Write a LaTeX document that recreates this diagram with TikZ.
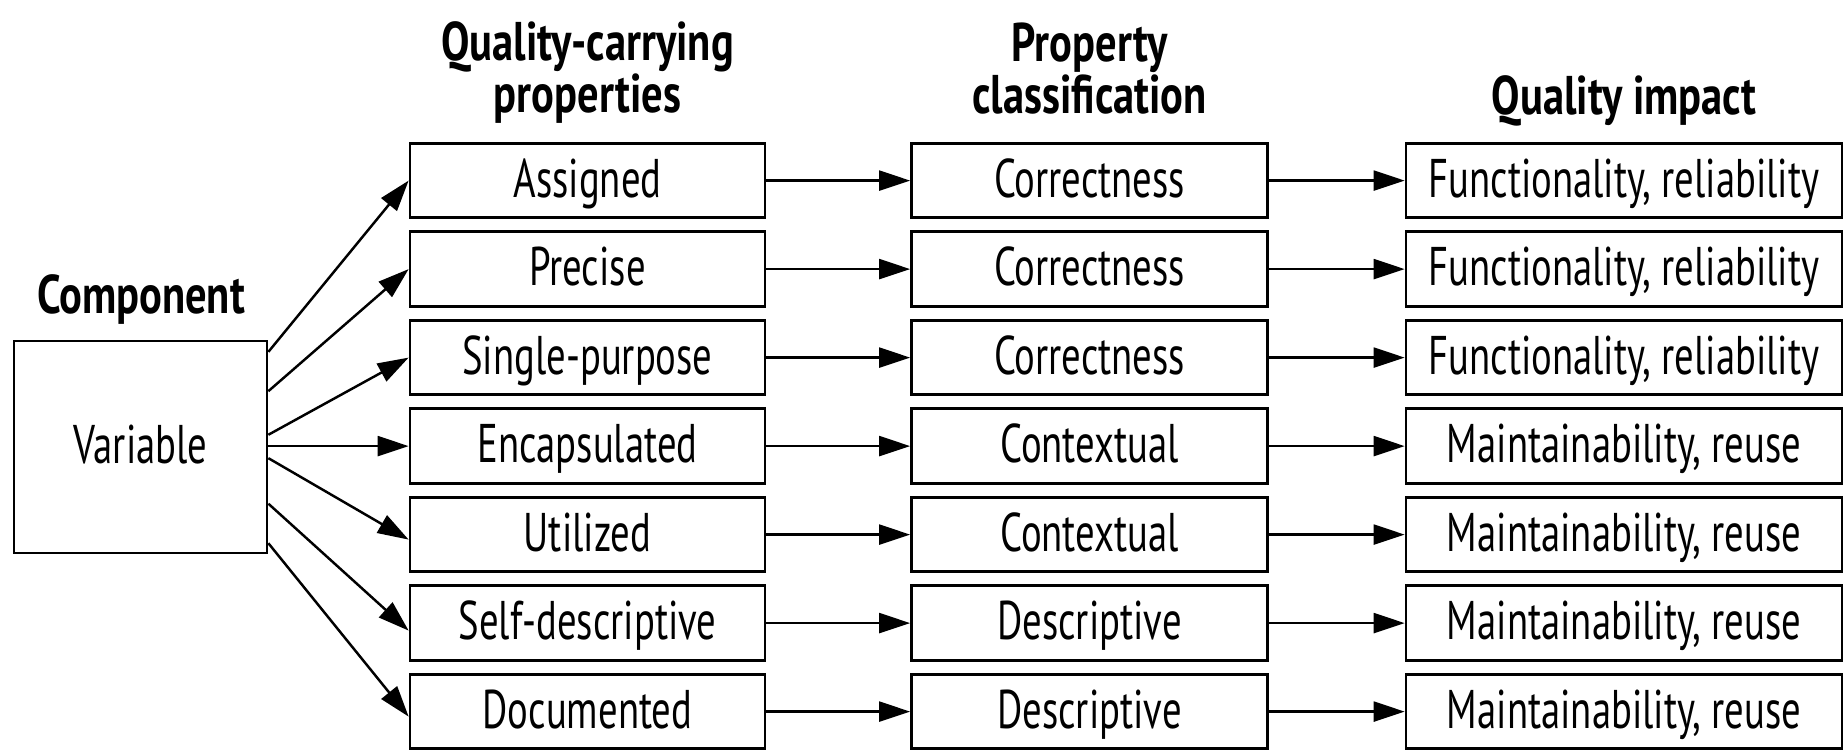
\documentclass[tikz,border=0pt]{standalone}
\usepackage{fontspec}
\setmainfont[FakeStretch=0.71,BoldFeatures={FakeStretch=0.78}]{PT Sans}
\usetikzlibrary{arrows.meta,positioning,calc}

\begin{document}
\begin{tikzpicture}[x=0.02cm,y=-0.02cm,
    box/.style={draw,line width=1.6pt,minimum height=1.49cm,inner sep=0pt,
      text height=0.86cm,text depth=0.2cm,font=\fontsize{31}{30}\selectfont},
    prop/.style={box,minimum width=7.1cm},
    cls/.style={box,minimum width=7.12cm},
    imp/.style={box,minimum width=8.72cm},
    head/.style={inner sep=0pt,align=center,font=\fontsize{31}{30}\selectfont\bfseries},
    link/.style={-{Triangle[length=0.62cm,width=0.4cm]},line width=1.4pt}]
	  \useasboundingbox (0,0) rectangle (1845,753);
	  % Component
	  \node[box,minimum width=5.06cm,minimum height=4.24cm] (comp) at (140.5,447) {Variable};
	  \node[head,anchor=base] (comphead) at (141,313) {Component};
	  % Column headers
	  \node[head,anchor=north] (prophead) at (587.5,21) {Quality-carrying\\properties};
	  \node[head,anchor=north] (clshead) at (1089.5,22) {Property\\classification};
	  \node[head,anchor=base] (imphead) at (1624,115) {Quality impact};
	  % Quality-carrying properties
	  \node[prop] (assigned) at (587.5,180.6) {Assigned};
	  \node[prop] (precise) at (587.5,269.1) {Precise};
	  \node[prop] (single) at (587.5,357.6) {Single-purpose};
	  \node[prop] (encaps) at (587.5,446.1) {Encapsulated};
	  \node[prop] (utilized) at (587.5,534.6) {Utilized};
	  \node[prop] (selfdesc) at (587.5,623.1) {Self-descriptive};
	  \node[prop] (documented) at (587.5,711.6) {Documented};
	  % Property classification
	  \node[cls] (corr1) at (1089.5,180.6) {Correctness};
	  \node[cls] (corr2) at (1089.5,269.1) {Correctness};
	  \node[cls] (corr3) at (1089.5,357.6) {Correctness};
	  \node[cls] (ctx1) at (1089.5,446.1) {Contextual};
	  \node[cls] (ctx2) at (1089.5,534.6) {Contextual};
	  \node[cls] (desc1) at (1089.5,623.1) {Descriptive};
	  \node[cls] (desc2) at (1089.5,711.6) {Descriptive};
	  % Quality impact
	  \node[imp] (func1) at (1624,180.6) {Functionality, reliability};
	  \node[imp] (func2) at (1624,269.1) {Functionality, reliability};
	  \node[imp] (func3) at (1624,357.6) {Functionality, reliability};
	  \node[imp] (maint1) at (1624,446.1) {Maintainability, reuse};
	  \node[imp] (maint2) at (1624,534.6) {Maintainability, reuse};
	  \node[imp] (maint3) at (1624,623.1) {Maintainability, reuse};
	  \node[imp] (maint4) at (1624,711.6) {Maintainability, reuse};
	  % Fan out from the component
	  \draw[link] ($(comp.north east)!0.057!(comp.south east)$) -- (assigned.west);
	  \draw[link] ($(comp.north east)!0.24!(comp.south east)$) -- (precise.west);
	  \draw[link] ($(comp.north east)!0.443!(comp.south east)$) -- (single.west);
	  \draw[link] (comp.east |- encaps.west) -- (encaps.west);
	  \draw[link] ($(comp.north east)!0.552!(comp.south east)$) -- ([yshift=-0.1cm]utilized.west);
	  \draw[link] ($(comp.north east)!0.764!(comp.south east)$) -- ([yshift=-0.15cm]selfdesc.west);
	  \draw[link] ($(comp.north east)!0.948!(comp.south east)$) -- ([yshift=-0.1cm]documented.west);
	  % Properties to classification
	  \draw[link] (assigned) -- (corr1);
	  \draw[link] (precise) -- (corr2);
	  \draw[link] (single) -- (corr3);
	  \draw[link] (encaps) -- (ctx1);
	  \draw[link] (utilized) -- (ctx2);
	  \draw[link] (selfdesc) -- (desc1);
	  \draw[link] (documented) -- (desc2);
	  % Classification to impact
	  \draw[link] (corr1) -- (func1);
	  \draw[link] (corr2) -- (func2);
	  \draw[link] (corr3) -- (func3);
	  \draw[link] (ctx1) -- (maint1);
	  \draw[link] (ctx2) -- (maint2);
	  \draw[link] (desc1) -- (maint3);
	  \draw[link] (desc2) -- (maint4);
\end{tikzpicture}
\end{document}
